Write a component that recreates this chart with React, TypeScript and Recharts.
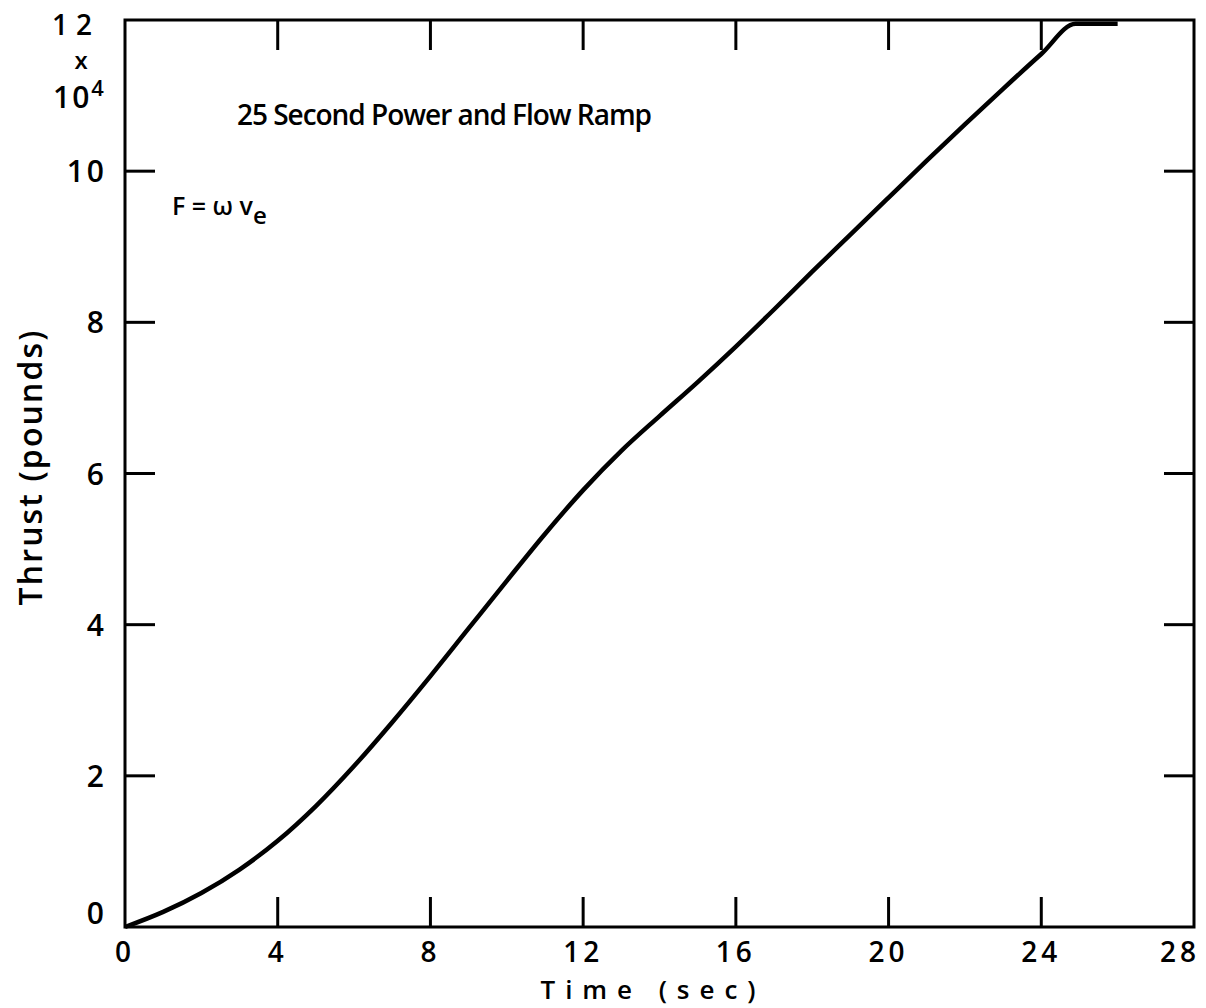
import React from "react";
import {
  LineChart,
  Line,
  XAxis,
  YAxis,
  ReferenceArea,
} from "recharts";

// Thrust ramp, time in seconds vs thrust in units of 10^4 lb
const timeSec = [
  0, 1, 2, 3, 4, 5, 6, 7, 8, 9, 10, 11, 12, 13, 14, 15, 16, 17, 18, 19, 20,
  21, 22, 23, 24, 24.9, 26,
];
const thrust = [
  0, 0.2, 0.45, 0.76, 1.14, 1.6, 2.13, 2.71, 3.32, 3.95, 4.58, 5.2, 5.78, 6.3,
  6.76, 7.21, 7.68, 8.17, 8.67, 9.16, 9.65, 10.14, 10.62, 11.09, 11.55, 11.95,
  11.95,
];

const xTicks = [0, 4, 8, 12, 16, 20, 24, 28];
const yTicks = [0, 2, 4, 6, 8, 10, 12];

const chartData = timeSec.map((t, i) => ({ t, f: thrust[i] }));

const W = 1206;
const H = 1008;
const X_AXIS_H = 50;
const Y_AXIS_W = 60;
const M = { top: 20, right: 12, bottom: 81 - X_AXIS_H, left: 125 - Y_AXIS_W };
const PLOT_W = W - 125 - M.right;
const PLOT_H = H - M.top - 81;
const TICK_LEN = 30;
const FONT = "'Open Sans', 'DejaVu Sans', sans-serif";
const INK = "#000";

// bottom tick labels plus inward ticks on bottom and top edges
const XTick = (props: any) => {
  const { x, y, payload } = props;
  const v = payload.value;
  const edge = v === 0 || v === 28;
  const dx = v === 28 ? -14 : 0;
  return (
    <g>
      {!edge && (
        <>
          <line x1={x} y1={y} x2={x} y2={y - TICK_LEN} stroke={INK} strokeWidth={3} />
          <line x1={x} y1={y - PLOT_H} x2={x} y2={y - PLOT_H + TICK_LEN} stroke={INK} strokeWidth={3} />
        </>
      )}
      <text
        x={x + dx}
        y={y + 35}
        textAnchor="middle"
        fontFamily={FONT}
        fontWeight={600}
        fontSize={28}
        letterSpacing={4}
        fill={INK}
      >
        {v}
      </text>
    </g>
  );
};

// left tick labels plus inward ticks on left and right edges
const YTick = (props: any) => {
  const { x, y, payload } = props;
  const v = payload.value;
  const edge = v === 0 || v === 12;
  const dy = v === 0 ? -14 : v === 12 ? 4 : 0;
  return (
    <g>
      {!edge && (
        <>
          <line x1={x} y1={y} x2={x + TICK_LEN} y2={y} stroke={INK} strokeWidth={3} />
          <line x1={x + PLOT_W} y1={y} x2={x + PLOT_W - TICK_LEN} y2={y} stroke={INK} strokeWidth={3} />
        </>
      )}
      <text
        x={v === 12 ? x - 25 : x - 18}
        y={y + dy + 11}
        textAnchor="end"
        fontFamily={FONT}
        fontWeight={600}
        fontSize={v === 12 ? 28 : 30}
        letterSpacing={v === 12 ? 8 : 3}
        fill={INK}
      >
        {v}
      </text>
      {v === 12 && (
        <g fontFamily={FONT} fontWeight={600} fill={INK}>
          <text x={x - 44} y={y + 49} textAnchor="middle" fontSize={24}>
            x
          </text>
          <text x={x - 72} y={y + 88} textAnchor="start" fontSize={30} letterSpacing={2}>
            10
            <tspan fontSize={22} dy={-12}>4</tspan>
          </text>
        </g>
      )}
    </g>
  );
};

export default function App() {
  return (
    <div style={{ position: "absolute", left: 0, top: 0, background: "#fff" }}>
      <LineChart width={W} height={H} data={chartData} margin={M}>
        <XAxis
          dataKey="t"
          type="number"
          domain={[0, 28]}
          ticks={xTicks}
          interval={0}
          axisLine={false}
          tickLine={false}
          tickSize={0}
          tickMargin={0}
          height={X_AXIS_H}
          tick={<XTick />}
        />
        <YAxis
          dataKey="f"
          type="number"
          domain={[0, 12]}
          ticks={yTicks}
          interval={0}
          axisLine={false}
          tickLine={false}
          tickSize={0}
          tickMargin={0}
          width={Y_AXIS_W}
          tick={<YTick />}
        />
        <ReferenceArea
          x1={0}
          x2={28}
          y1={0}
          y2={12}
          fill="none"
          stroke={INK}
          strokeWidth={3}
          ifOverflow="visible"
        />
        <Line
          type="monotone"
          dataKey="f"
          stroke={INK}
          strokeWidth={4.5}
          dot={false}
          isAnimationActive={false}
        />
        <text
          x={237}
          y={125}
          fontFamily={FONT}
          fontWeight={600}
          fontSize={28}
          textLength={415}
          lengthAdjust="spacing"
          fill={INK}
        >
          25 Second Power and Flow Ramp
        </text>
        <text x={172} y={215} fontFamily={FONT} fontWeight={600} fontSize={25} fill={INK}>
          F = ω v
          <tspan fontSize={24} dy={9}>e</tspan>
        </text>
        <text
          x={648}
          y={999}
          textAnchor="middle"
          fontFamily={FONT}
          fontWeight={600}
          fontSize={26}
          textLength={215}
          lengthAdjust="spacing"
          fill={INK}
        >
          Time (sec)
        </text>
        <text
          x={42}
          y={468}
          transform="rotate(-90 42 468)"
          textAnchor="middle"
          fontFamily={FONT}
          fontWeight={600}
          fontSize={32}
          textLength={275}
          lengthAdjust="spacing"
          fill={INK}
        >
          Thrust (pounds)
        </text>
      </LineChart>
    </div>
  );
}
